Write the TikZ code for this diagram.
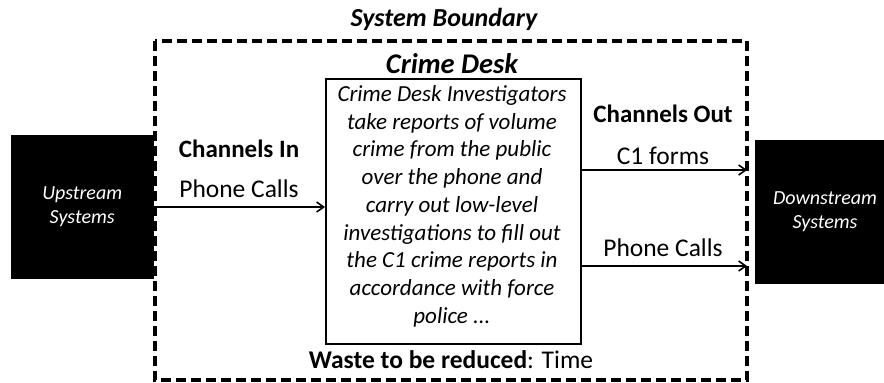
\documentclass[tikz,border=0pt]{standalone}
\usepackage{fontspec}
\setmainfont{Carlito}
\usetikzlibrary{arrows.meta}
\begin{document}
\begin{tikzpicture}[x=1pt,y=-1pt,
  blackbox/.style={fill=black,draw=black,text=white,font=\fontsize{20}{24}\selectfont\itshape,align=center},
  flow/.style={line width=1.8pt,-{Straight Barb[length=7pt,width=10pt,line width=1.6pt]}},
  lbl/.style={font=\fontsize{25.5}{30}\selectfont},
  lblb/.style={font=\fontsize{25}{30}\selectfont\bfseries}]
\useasboundingbox (0,0) rectangle (884,383);
% system boundary
\draw[line width=3.5pt,dash pattern=on 10pt off 5pt] (155,41) rectangle (747,380);
\node[font=\fontsize{26}{30}\selectfont\bfseries\itshape] (sb) at (444,19) {System Boundary};
% crime desk process
\node[font=\fontsize{28.5}{32}\selectfont\bfseries\itshape] (cdt) at (452,64) {Crime Desk};
\node[draw,line width=1.8pt,minimum width=255pt,minimum height=265pt,anchor=north west,inner sep=0pt] (cd) at (325,78) {};
\node[font=\fontsize{23}{27.7}\selectfont\itshape,align=center,anchor=north] (cdtext) at (452,82)
  {Crime Desk Investigators\\take reports of volume\\crime from the public\\over the phone and\\carry out low-level\\investigations to fill out\\the C1 crime reports in\\accordance with force\\police ...};
% external systems
\node[blackbox,minimum width=142pt,minimum height=143pt,anchor=north west,inner sep=0pt] (up) at (11,135) {Upstream\\Systems};
\node[blackbox,minimum width=129pt,minimum height=143pt,anchor=north west,inner sep=0pt] (down) at (755,140) {};
\node[blackbox] (downtext) at (825,212) {Downstream\\Systems};
% channels in
\node[lblb] (cin) at (239,149) {Channels In};
\node[lbl] (pin) at (239,189) {Phone Calls};
\coordinate (inS) at (155,207);
\draw[flow] (inS) -- (inS -| cd.west);
% channels out
\node[lblb] (cout) at (663,114) {Channels Out};
\node[lbl] (c1) at (663,156) {C1 forms};
\node[lbl] (pout) at (663,248) {Phone Calls};
\coordinate (o1) at (747,170);
\coordinate (o2) at (747,266);
\draw[flow] (o1 -| cd.east) -- (o1);
\draw[flow] (o2 -| cd.east) -- (o2);
% waste
\node[lbl] (waste) at (451,360) {\textbf{Waste to be reduced}: Time};
\end{tikzpicture}
\end{document}
